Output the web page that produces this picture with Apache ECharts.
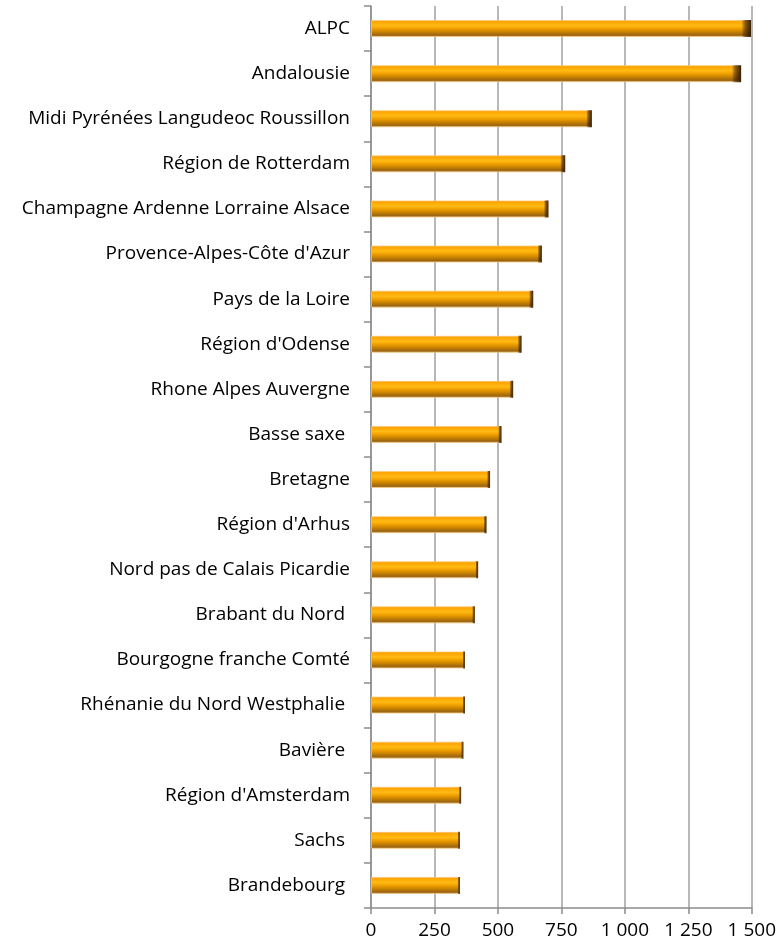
<!DOCTYPE html>
<html>
<head>
<meta charset="utf-8">
<script src="https://cdn.jsdelivr.net/npm/echarts@6/dist/echarts.min.js"></script>
<style>
html,body{margin:0;padding:0;background:#fff;}
#chart{width:779px;height:945px;}
</style>
</head>
<body>
<div id="chart"></div>
<script>
const categories = [
  "ALPC",
  "Andalousie",
  "Midi Pyrénées Langudeoc Roussillon",
  "Région de Rotterdam",
  "Champagne Ardenne Lorraine Alsace",
  "Provence-Alpes-Côte d'Azur",
  "Pays de la Loire",
  "Région d'Odense",
  "Rhone Alpes Auvergne",
  "Basse saxe ",
  "Bretagne",
  "Région d'Arhus",
  "Nord pas de Calais Picardie",
  "Brabant du Nord ",
  "Bourgogne franche Comté",
  "Rhénanie du Nord Westphalie ",
  "Bavière ",
  "Région d'Amsterdam",
  "Sachs ",
  "Brandebourg "
];
const values = [1497, 1458, 870, 765, 699, 673, 639, 593, 560, 514, 469, 455, 422, 409, 370, 370, 364, 355, 350, 350];
const xTicks = { min: 0, max: 1500, interval: 250 };

const chart = echarts.init(document.getElementById('chart'), null, {renderer: 'canvas'});
const fmt = v => {
  const s = String(v);
  return s.length > 3 ? s.slice(0, s.length - 3) + ' ' + s.slice(-3) : s;
};
const barGradient = new echarts.graphic.LinearGradient(0, 0, 0, 1, [
  {offset: 0, color: '#FC9E00'},
  {offset: 0.15, color: '#FFAA06'},
  {offset: 0.33, color: '#FFBA14'},
  {offset: 0.5, color: '#F0A000'},
  {offset: 0.7, color: '#C88200'},
  {offset: 0.88, color: '#9C6612'},
  {offset: 1, color: '#B48644'}
]);
const endShade = new echarts.graphic.LinearGradient(0, 0, 1, 0, [
  {offset: 0, color: 'rgba(0,0,0,0)'},
  {offset: 0.975, color: 'rgba(0,0,0,0)'},
  {offset: 0.985, color: 'rgba(60,30,0,0.6)'},
  {offset: 1, color: 'rgba(30,15,0,0.9)'}
]);
const labelFont = '"Open Sans", sans-serif';
chart.setOption({
  animation: false,
  grid: {left: 371, right: 27, top: 6, bottom: 37, containLabel: false},
  xAxis: {
    type: 'value',
    min: xTicks.min, max: xTicks.max, interval: xTicks.interval,
    axisLine: {show: true, lineStyle: {color: '#8C8C8C', width: 1.5}},
    axisTick: {show: true, length: 6, lineStyle: {color: '#8C8C8C', width: 1.5}},
    splitLine: {show: true, lineStyle: {color: '#A0A0A0', width: 1.5}},
    axisLabel: {
      color: '#000', fontFamily: labelFont, fontSize: 19,
      margin: 13, formatter: fmt, hideOverlap: false
    }
  },
  yAxis: {
    type: 'category',
    inverse: true,
    data: categories,
    axisLine: {show: true, lineStyle: {color: '#8C8C8C', width: 1.5}},
    axisTick: {show: true, length: 7, alignWithLabel: false, lineStyle: {color: '#8C8C8C', width: 1.5}},
    axisLabel: {
      color: '#000', fontFamily: labelFont, fontSize: 19,
      margin: 21, interval: 0
    }
  },
  series: [
    {
      type: 'bar',
      data: values,
      barWidth: 17,
      itemStyle: {color: barGradient, borderColor: 'rgba(250,200,120,0.7)', borderWidth: 1},
      z: 2
    },
    {
      type: 'bar',
      data: values,
      barWidth: 17,
      barGap: '-100%',
      itemStyle: {color: endShade},
      silent: true,
      z: 3
    }
  ]
});
</script>
</body>
</html>
